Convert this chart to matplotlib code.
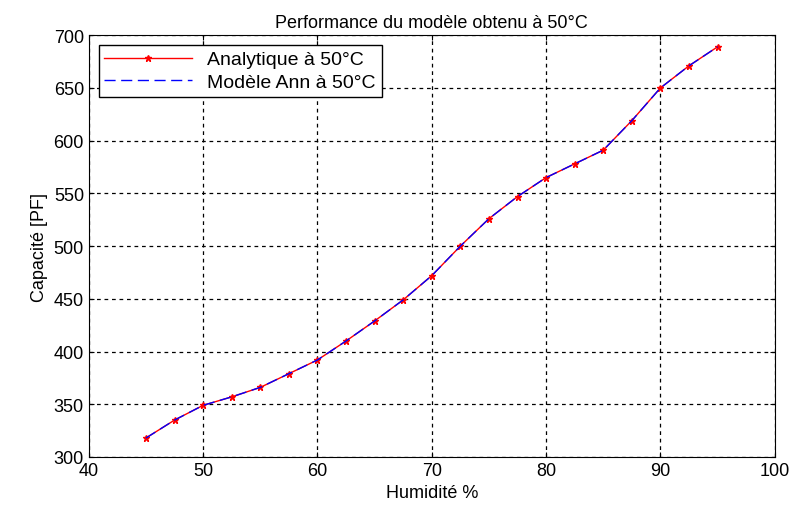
import numpy as np
import matplotlib.pyplot as plt

plt.rcParams['font.family'] = ['Liberation Sans', 'DejaVu Sans']

# Données
humidite = [45, 47.5, 50, 52.5, 55, 57.5, 60, 62.5, 65, 67.5, 70,
            72.5, 75, 77.5, 80, 82.5, 85, 87.5, 90, 92.5, 95]
capa_analytique = [318, 335, 349, 357, 366, 379, 392, 410, 429, 449, 472,
                   500, 526, 547, 565, 578, 591, 619, 650, 671, 689]
capa_ann = [318, 335, 349, 357, 366, 379, 392, 410, 429, 449, 472,
            500, 526, 547, 565, 578, 591, 619, 650, 671, 689]

fig = plt.figure(figsize=(7.93, 5.10), dpi=100)
ax = fig.add_axes([0.112, 0.102, 0.865, 0.827])

ax.plot(humidite, capa_analytique, color='red', lw=1, marker='*',
        markersize=5, markeredgewidth=1, label='Analytique à 50°C')
ax.plot(humidite, capa_ann, color='blue', lw=1, linestyle=(0, (8, 4)),
        label='Modèle Ann à 50°C')

ax.set_xlim(40, 100)
ax.set_ylim(300, 700)
ax.set_xticks(np.arange(40, 101, 10))
ax.set_yticks(np.arange(300, 701, 50))
ax.grid(True, color='black', linestyle=(0, (3, 3)), lw=0.9)
ax.tick_params(direction='in', top=True, right=True, labelsize=13)

ax.set_title('Performance du modèle obtenu à 50°C', fontsize=13)
ax.set_xlabel('Humidité %', fontsize=13)
ax.set_ylabel('Capacité [PF]', fontsize=13)

leg = ax.legend(loc='upper left', fontsize=14, fancybox=False,
                edgecolor='black', framealpha=1, handlelength=4.5,
                borderaxespad=0.5, borderpad=0.3, labelspacing=0.25)
leg.get_frame().set_linewidth(1)

fig.savefig('out.png', dpi=100)
